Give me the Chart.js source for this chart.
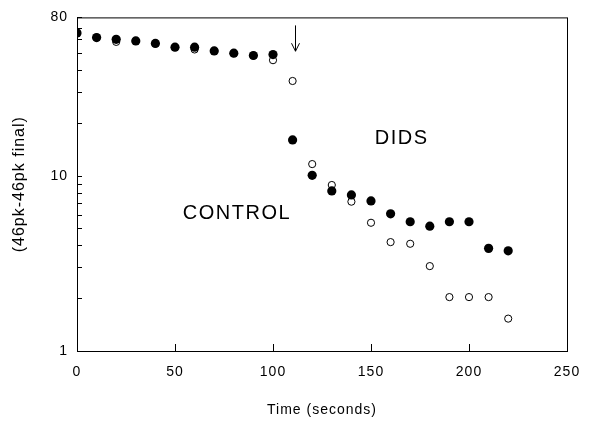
<!DOCTYPE html>
<html>
<head>
<meta charset="utf-8">
<script src="https://cdn.jsdelivr.net/npm/chart.js@4.4.1/dist/chart.umd.min.js"></script>
<style>
  html, body { margin: 0; padding: 0; background: #fff; }
  #wrap { width: 611px; height: 421px; }
</style>
</head>
<body>
<div id="wrap"><canvas id="c"></canvas></div>
<script>
// temps en secondes
const times = [0, 10, 20, 30, 40, 50, 60, 70, 80, 90, 100, 110, 120, 130, 140, 150, 160, 170, 180, 190, 200, 210, 220];
// points pleins (DIDS)
const didsValues = [65.2, 61.4, 60, 58.7, 56.8, 54.1, 54.1, 51.5, 50, 48.5, 49.1, 16.0, 10.05, 8.19, 7.77, 7.18, 6.06, 5.46, 5.15, 5.46, 5.46, 3.85, 3.73];
// points vides (CONTROL)
const controlValues = [65.2, 61.4, 58, 58.7, 56.8, 54.1, 52.5, 51.5, 50, 48.5, 45.6, 34.7, 11.65, 8.85, 7.11, 5.39, 4.18, 4.09, 3.05, 2.03, 2.03, 2.03, 1.53];
const yTickValues = [1, 10, 80];
const yMinorTicks = [2, 3, 4, 5, 6, 7, 8, 9, 20, 30, 40, 50, 60, 70];
const xTickValues = [0, 50, 100, 150, 200, 250];

const FONT = 'Liberation Sans, Arial, sans-serif';

const toPoints = (vals) => times.map((t, i) => ({ x: t, y: vals[i] }));

// texte un peu espacé, comme l'original
const spacing = {
    id: 'spacing',
    beforeDraw(chart) {
        chart.ctx.letterSpacing = '1px';
    }
};

// cadre, petites graduations, flèche et étiquettes
const decorations = {
    id: 'decorations',
    afterDraw(chart) {
        const { ctx, chartArea: a, scales: { x, y } } = chart;
        ctx.save();
        ctx.strokeStyle = '#000';
        ctx.lineWidth = 1;
        ctx.strokeRect(a.left + 0.5, a.top + 0.5, a.right - a.left, a.bottom - a.top);

        ctx.beginPath();
        yTickValues.concat(yMinorTicks).forEach(v => {
            const py = Math.round(y.getPixelForValue(v)) + 0.5;
            ctx.moveTo(a.left, py);
            ctx.lineTo(a.left + 5, py);
        });
        xTickValues.forEach(v => {
            const px = Math.round(x.getPixelForValue(v)) + 0.5;
            ctx.moveTo(px, a.bottom);
            ctx.lineTo(px, a.bottom - 7);
        });
        ctx.stroke();

        // flèche
        const ax = Math.round(x.getPixelForValue(111)) + 0.5;
        const y0 = y.getPixelForValue(72);
        const y1 = y.getPixelForValue(51.3);
        ctx.beginPath();
        ctx.moveTo(ax, y0);
        ctx.lineTo(ax, y1);
        ctx.moveTo(ax - 4, y1 - 8);
        ctx.lineTo(ax, y1);
        ctx.lineTo(ax + 4, y1 - 8);
        ctx.stroke();

        ctx.fillStyle = '#000';
        ctx.font = '20px ' + FONT;
        ctx.letterSpacing = '1.5px';
        ctx.textAlign = 'center';
        ctx.textBaseline = 'middle';
        ctx.fillText('DIDS', x.getPixelForValue(165.6), y.getPixelForValue(16.4));
        ctx.fillText('CONTROL', x.getPixelForValue(81.6), y.getPixelForValue(6.12));
        ctx.restore();
    }
};

new Chart(document.getElementById('c'), {
    type: 'scatter',
    data: {
        datasets: [{
            label: 'CONTROL',
            data: toPoints(controlValues),
            pointRadius: 3.6,
            pointBackgroundColor: '#fff',
            pointBorderColor: '#000',
            pointBorderWidth: 1,
            order: 2
        }, {
            label: 'DIDS',
            data: toPoints(didsValues),
            pointRadius: 4.6,
            pointBackgroundColor: '#000',
            pointBorderColor: '#000',
            pointBorderWidth: 0,
            order: 1
        }]
    },
    options: {
        responsive: true,
        maintainAspectRatio: false,
        animation: false,
        layout: { padding: { left: 0, top: 16, right: 44, bottom: 0 } },
        plugins: {
            legend: { display: false },
            tooltip: { enabled: false }
        },
        scales: {
            x: {
                type: 'linear',
                min: 0,
                max: 250,
                afterBuildTicks: (s) => { s.ticks = xTickValues.map(v => ({ value: v })); },
                afterFit: (s) => { s.height = 70; },
                grid: { display: false, drawTicks: false },
                border: { display: false },
                ticks: {
                    padding: 13,
                    color: '#000',
                    font: { family: FONT, size: 14 }
                },
                title: {
                    display: true,
                    text: 'Time (seconds)',
                    color: '#000',
                    font: { family: FONT, size: 14 },
                    padding: { top: 0, bottom: 2 }
                }
            },
            y: {
                type: 'logarithmic',
                min: 1,
                max: 80,
                afterBuildTicks: (s) => { s.ticks = yTickValues.map(v => ({ value: v })); },
                afterFit: (s) => { s.width = 77; },
                grid: { display: false, drawTicks: false },
                border: { display: false },
                ticks: {
                    padding: 9,
                    color: '#000',
                    font: { family: FONT, size: 14 },
                    callback: (v) => String(v)
                },
                title: {
                    display: true,
                    text: '(46pk-46pk final)',
                    color: '#000',
                    font: { family: FONT, size: 16 },
                    padding: { top: 10, bottom: 0 }
                }
            }
        }
    },
    plugins: [spacing, decorations]
});
</script>
</body>
</html>
